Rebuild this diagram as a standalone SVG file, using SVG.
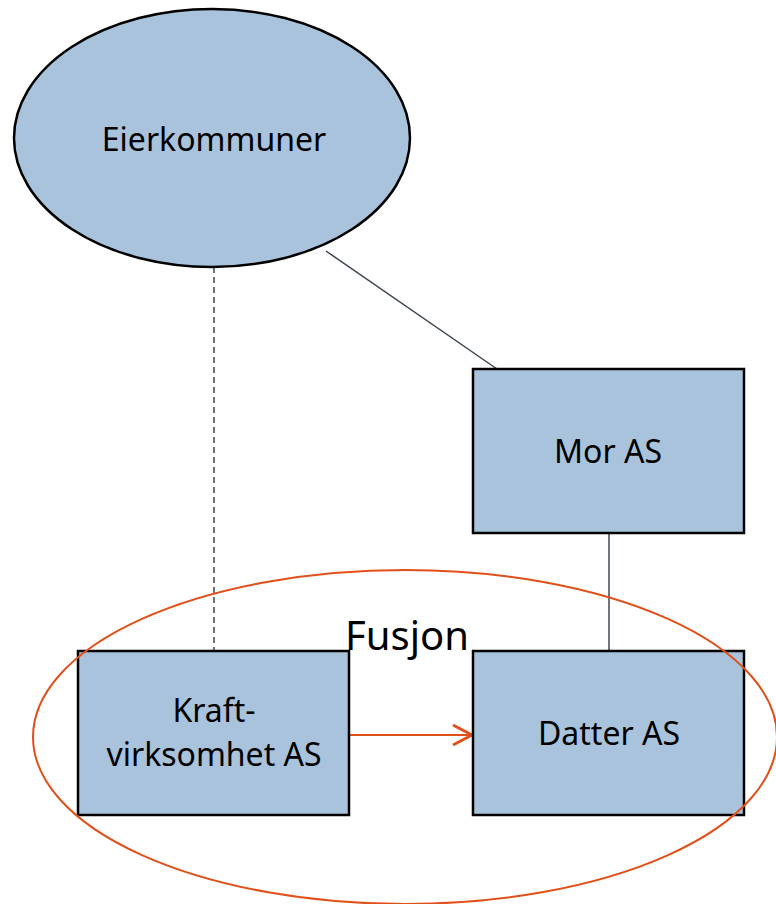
<svg xmlns="http://www.w3.org/2000/svg" width="776" height="904" viewBox="0 0 776 904">
<style>
  .node { fill: #a9c3dc; stroke: #000; stroke-width: 2.5; }
  .lbl { font-family: "Noto Sans", "Open Sans", sans-serif; font-size: 32px; fill: #000; text-anchor: middle; }
  .conn { stroke: #3c4651; stroke-width: 1.5; fill: none; }
  .orange { stroke: #e2501a; stroke-width: 2; fill: none; }
</style>
<defs>
  <marker id="open" markerWidth="24" markerHeight="24" refX="21" refY="12" orient="auto" markerUnits="userSpaceOnUse">
    <path d="M2,2 L21,12 L2,22" fill="none" stroke="#e2501a" stroke-width="3"/>
  </marker>
</defs>
<rect width="776" height="904" fill="#fff"/>
<g id="connectors">
  <line class="conn" x1="214" y1="267" x2="214" y2="651" stroke-dasharray="6,4"/>
  <line class="conn" x1="326" y1="251" x2="497" y2="369"/>
  <line class="conn" x1="609" y1="533" x2="609" y2="651"/>
  <line class="orange" x1="350" y1="735" x2="472" y2="735" stroke-width="2.5" marker-end="url(#open)"/>
</g>
<g id="eierkommuner">
  <ellipse class="node" cx="212" cy="138" rx="198" ry="129"/>
  <text class="lbl" x="214" y="151">Eierkommuner</text>
</g>
<g id="mor">
  <rect class="node" x="473" y="369" width="271" height="164"/>
  <text class="lbl" x="608" y="463">Mor AS</text>
</g>
<g id="kraft">
  <rect class="node" x="78" y="651" width="271" height="164"/>
  <text class="lbl" x="214" y="722">Kraft-</text>
  <text class="lbl" x="214" y="766">virksomhet AS</text>
</g>
<g id="datter">
  <rect class="node" x="473" y="651" width="271" height="164"/>
  <text class="lbl" x="609" y="745">Datter AS</text>
</g>
<g id="fusjon">
  <ellipse class="orange" cx="405" cy="737" rx="372" ry="167"/>
  <text class="lbl" x="407" y="650" style="font-size:40px">Fusjon</text>
</g>
</svg>
